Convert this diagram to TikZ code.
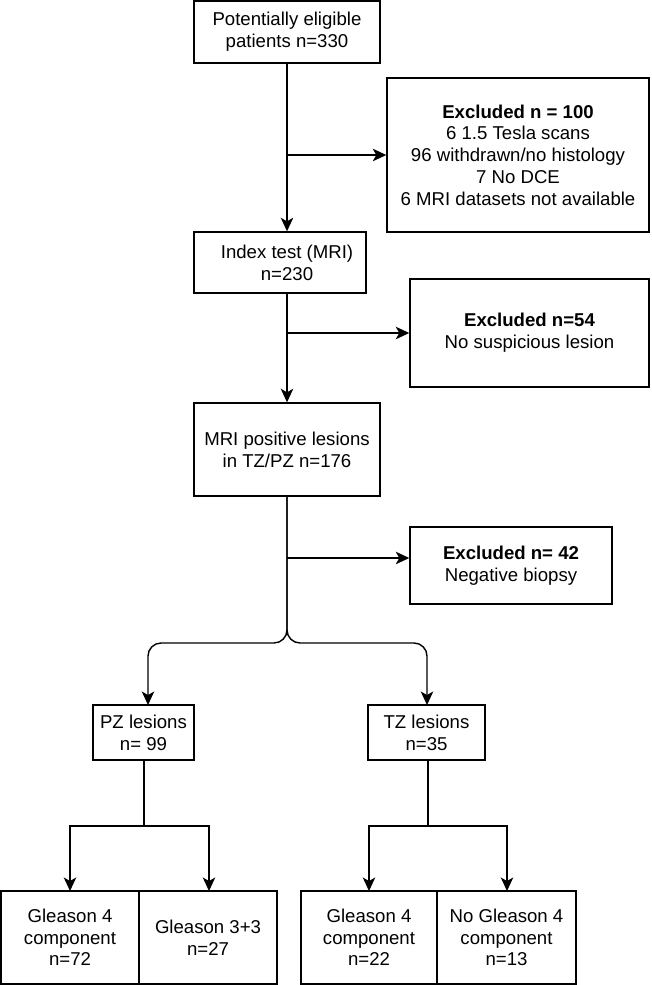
\documentclass[tikz,border=0pt]{standalone}
\usepackage{fontspec}
\setmainfont{Liberation Sans}
\usetikzlibrary{arrows.meta}
\begin{document}
\begin{tikzpicture}[x=1pt,y=-1pt,
 box/.style={draw, line width=1.4pt, inner sep=0pt, align=center, font=\fontsize{18.6}{21.7}\selectfont},
 txt/.style={inner sep=0pt, align=center, font=\fontsize{18.6}{21.7}\selectfont},
 arr/.style={line width=1.4pt, -{Stealth[length=13.5pt,width=12.5pt,inset=3.5pt]}},
 ln/.style={line width=1.4pt}]
\useasboundingbox (0,0) rectangle (651,985);

\node[box, minimum width=186pt, minimum height=62pt] (b1) at (287,32) {Potentially eligible\\patients n=330};
\node[box, minimum width=262pt, minimum height=154pt] (ex1) at (518,155) {\textbf{Excluded n = 100}\\6 1.5 Tesla scans\\96 withdrawn/no histology\\7 No DCE\\6 MRI datasets not available};
\node[box, minimum width=172pt, minimum height=61pt] (b2) at (280,262.5) {};
\node[txt] (b2t) at (287,262.5) {Index test (MRI)\\n=230};
\node[box, minimum width=239pt, minimum height=108pt] (ex2) at (529.5,333) {\textbf{Excluded n=54}\\No suspicious lesion};
\node[box, minimum width=186pt, minimum height=93pt] (b3) at (287,449.5) {MRI positive lesions\\in TZ/PZ n=176};
\node[box, minimum width=202pt, minimum height=77pt] (ex3) at (511,565.5) {\textbf{Excluded n= 42}\\Negative biopsy};
\node[box, minimum width=101pt, minimum height=55pt] (pz) at (143.5,732.5) {PZ lesions\\n= 99};
\node[box, minimum width=117pt, minimum height=55pt] (tz) at (426.5,732.5) {TZ lesions\\n=35};
\node[box, minimum width=138pt, minimum height=93pt] (g1) at (70,937.5) {Gleason 4\\component\\n=72};
\node[box, minimum width=138pt, minimum height=93pt] (g2) at (208,937.5) {Gleason 3+3\\n=27};
\node[box, minimum width=136pt, minimum height=93pt] (g3) at (369,937.5) {Gleason 4\\component\\n=22};
\node[box, minimum width=139pt, minimum height=93pt] (g4) at (506.5,937.5) {No Gleason 4\\component\\n=13};

% main spine
\draw[arr] (b1.south) -- (b1.south |- b2.north);
\coordinate (j1) at (b1.south |- ex1.west);
\draw[arr] (j1) -- (ex1.west);
\draw[arr] (b3.north |- b2.south) -- (b3.north);
\coordinate (j2) at (b3.north |- ex2.west);
\draw[arr] (j2) -- (ex2.west);
\coordinate (j3) at (287,558);
\draw[arr] (j3) -- (j3 -| ex3.west);

% split
\coordinate (sp) at (287,643);
\coordinate (pzin) at (148,705);
\coordinate (tzin) at (427,705);
\draw[arr, rounded corners=13pt] (b3.south) -- (sp) -- (sp -| pzin) -- (pzin);
\draw[arr, rounded corners=13pt] (b3.south) -- (sp) -- (sp -| tzin) -- (tzin);

% PZ branches
\coordinate (pzs) at (144,826);
\coordinate (g1in) at (70,891);
\coordinate (g2in) at (209,891);
\draw[ln] (pzs |- pz.south) -- (pzs);
\draw[arr] (pzs) -| (g1in);
\draw[arr] (pzs) -| (g2in);

% TZ branches
\coordinate (tzs) at (428,826);
\coordinate (g3in) at (369,891);
\coordinate (g4in) at (507,891);
\draw[ln] (tzs |- tz.south) -- (tzs);
\draw[arr] (tzs) -| (g3in);
\draw[arr] (tzs) -| (g4in);
\end{tikzpicture}
\end{document}
